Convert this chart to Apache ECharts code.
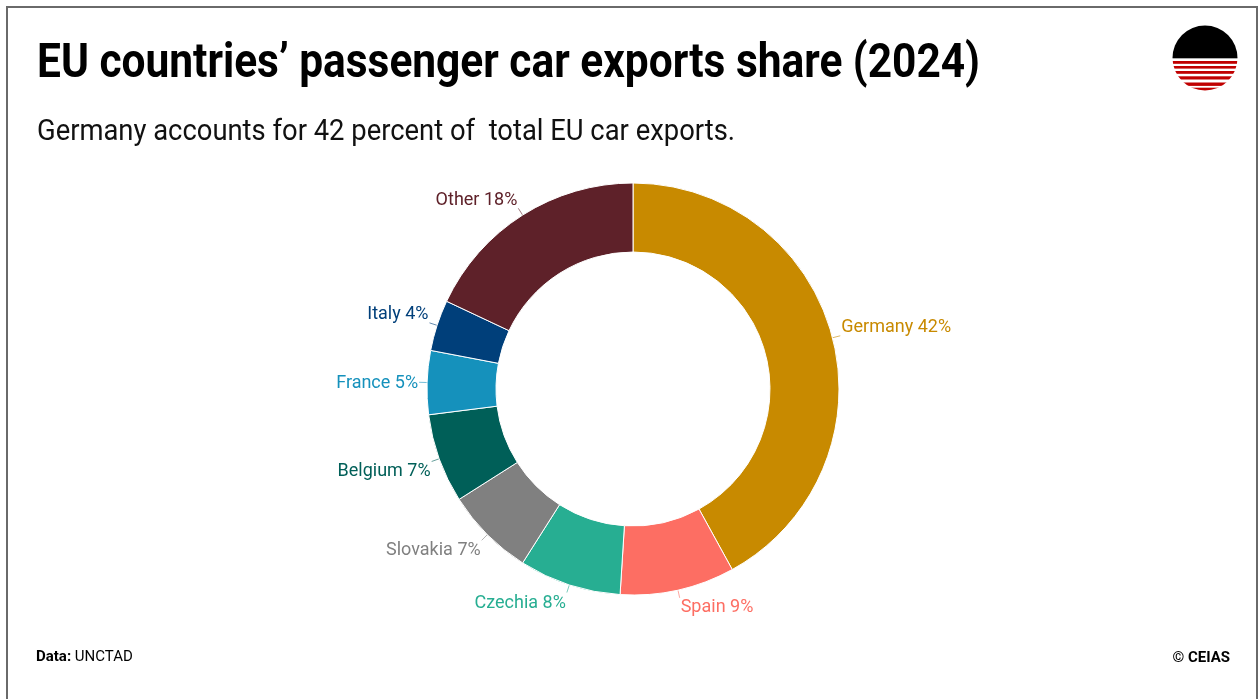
<!DOCTYPE html>
<html>
<head>
<meta charset="utf-8">
<title>EU countries’ passenger car exports share (2024)</title>
<script src="https://cdn.jsdelivr.net/npm/echarts@6/dist/echarts.min.js"></script>
<style>
  html, body { margin: 0; padding: 0; background: #fff; }
  #chart { width: 1259px; height: 699px; }
</style>
</head>
<body>
<div id="chart"></div>
<script>
// Share of EU passenger car exports by country, 2024 (percent)
const countries = ['Germany', 'Spain', 'Czechia', 'Slovakia', 'Belgium', 'France', 'Italy', 'Other'];
const shares = [42, 9, 8, 7, 7, 5, 4, 18];
const sliceColors = ['#c88a00', '#fd6e63', '#27ae92', '#808080', '#005f58', '#1591bc', '#003f7a', '#5e2129'];

const titleText = 'EU countries’ passenger car exports share (2024)';
const subtitleText = 'Germany accounts for 42 percent of  total EU car exports.';

// Vertical nudge for each outside label, spreading them away from the middle
const labelNudgeY = [-8, 10, 11, 10, 10, 1, -8, -8];

// Condensed look: scale Roboto horizontally to the wanted line width
function fitScale(text, font, width) {
  const ctx = document.createElement('canvas').getContext('2d');
  ctx.font = font;
  return width / ctx.measureText(text).width;
}
const titleFont = 'bold 48px Roboto';
const subFont = '30px Roboto';
const titleScale = fitScale(titleText, titleFont, 943);
const subScale = fitScale(subtitleText, subFont, 698);

// Striped sun logo
const logoSvg =
  '<svg xmlns="http://www.w3.org/2000/svg" width="66" height="66" viewBox="-33 -33 66 66">' +
  '<defs><clipPath id="c"><circle cx="0" cy="0" r="32.5"/></clipPath></defs>' +
  '<g clip-path="url(#c)">' +
  '<rect x="-33" y="-33" width="66" height="33" fill="#000"/>' +
  '<rect x="-33" y="0" width="66" height="0.8" fill="#999"/>' +
  '<rect x="-33" y="3" width="66" height="2.8" fill="#c00000"/>' +
  '<rect x="-33" y="8" width="66" height="2.6" fill="#c00000"/>' +
  '<rect x="-33" y="13" width="66" height="2.8" fill="#c00000"/>' +
  '<rect x="-33" y="18.3" width="66" height="3.2" fill="#c00000"/>' +
  '<rect x="-33" y="24.5" width="66" height="3.4" fill="#c00000"/>' +
  '<rect x="-33" y="29.7" width="66" height="4" fill="#c00000"/>' +
  '</g></svg>';
const logoUri = 'data:image/svg+xml;charset=utf-8,' + encodeURIComponent(logoSvg);

const chart = echarts.init(document.getElementById('chart'), null, { renderer: 'canvas' });

chart.setOption({
  backgroundColor: '#ffffff',
  animation: false,
  graphic: [
    {
      type: 'rect',
      shape: { x: 7, y: 7, width: 1250, height: 720 },
      style: { fill: 'none', stroke: '#6a6a6a', lineWidth: 2 },
      silent: true
    },
    {
      type: 'text',
      x: 37, y: 65,
      scaleX: titleScale,
      style: {
        text: titleText,
        font: titleFont,
        fill: '#000',
        align: 'left',
        verticalAlign: 'middle'
      }
    },
    {
      type: 'text',
      x: 37, y: 132,
      scaleX: subScale,
      style: {
        text: subtitleText,
        font: subFont,
        fill: '#111',
        align: 'left',
        verticalAlign: 'middle'
      }
    },
    {
      type: 'image',
      x: 1172, y: 25,
      style: { image: logoUri, width: 66, height: 66 }
    },
    {
      type: 'text',
      x: 36, y: 657,
      style: {
        text: '{b|Data:} UNCTAD',
        rich: { b: { fontWeight: 'bold', fontFamily: 'Roboto', fontSize: 15, fill: '#000' } },
        fontFamily: 'Roboto',
        fontSize: 15,
        fill: '#000',
        align: 'left',
        verticalAlign: 'middle'
      }
    },
    {
      type: 'text',
      x: 1230, y: 658,
      style: {
        text: '© CEIAS',
        font: 'bold 15px Roboto',
        fill: '#000',
        align: 'right',
        verticalAlign: 'middle'
      }
    }
  ],
  series: [
    {
      type: 'pie',
      center: [633, 389],
      radius: [137, 206],
      startAngle: 90,
      clockwise: true,
      avoidLabelOverlap: true,
      itemStyle: { borderColor: '#ffffff', borderWidth: 1 },
      label: {
        show: true,
        position: 'outside',
        formatter: '{b} {c}%',
        fontFamily: 'Roboto',
        fontSize: 18,
        distanceToLabelLine: 1
      },
      labelLine: {
        show: true,
        length: 8,
        length2: 0,
        lineStyle: { width: 1, opacity: 0.6 }
      },
      labelLayout: function (params) {
        return { dy: labelNudgeY[params.dataIndex] };
      },
      emphasis: { disabled: true },
      data: countries.map((name, i) => ({
        name: name,
        value: shares[i],
        itemStyle: { color: sliceColors[i] },
        label: { color: sliceColors[i] }
      }))
    }
  ]
});
</script>
</body>
</html>
